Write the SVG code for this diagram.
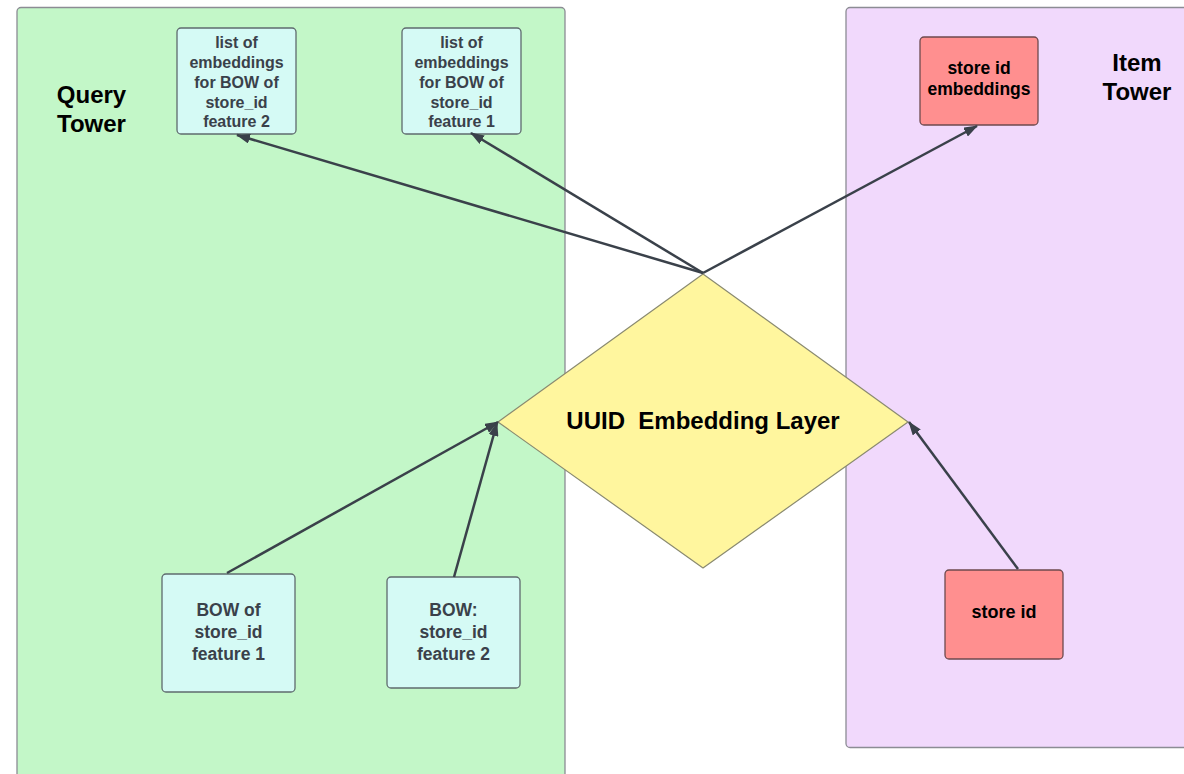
<svg xmlns="http://www.w3.org/2000/svg" width="1184" height="774" viewBox="0 0 1184 774">
<style>
.t{font-family:"Liberation Sans",Arial,sans-serif;font-weight:bold;text-anchor:middle}
.cont{stroke:#8c8c94;stroke-width:1.3}
.cy{fill:#d5faf5;stroke:#5f6b6e;stroke-width:1.3}
.rd{fill:#ff8f8f;stroke:#6e4a4e;stroke-width:1.3}
.sm{font-size:16px;fill:#3a414a}
.md{font-size:17.5px;fill:#3a414a}
.bk{fill:#000}
.cn{stroke:#3a414a;stroke-width:2.5;fill:none;marker-end:url(#ah)}
</style>
<defs>
<marker id="ah" viewBox="0 0 14 10" refX="13" refY="5" markerWidth="14" markerHeight="10" markerUnits="userSpaceOnUse" orient="auto">
<path d="M0,0 L14,5 L0,10 Z" fill="#3a414a"/>
</marker>
</defs>
<rect width="1184" height="774" fill="#ffffff"/>
<g id="query-tower">
<rect class="cont" x="17" y="7.5" width="548" height="780" rx="4" fill="#c3f7c8"/>
<text class="t bk" font-size="24" x="91.5" y="103">Query</text>
<text class="t bk" font-size="24" x="91.5" y="132">Tower</text>
</g>
<g id="item-tower">
<rect class="cont" x="846" y="7.5" width="350" height="740" rx="4" fill="#f1d9fc"/>
<text class="t bk" font-size="24" x="1137" y="71">Item</text>
<text class="t bk" font-size="24" x="1137" y="100">Tower</text>
</g>
<g id="list-emb-f2">
<rect class="cy" x="177" y="28" width="119" height="106" rx="4"/>
<text class="t sm" x="236.5"><tspan x="236.5" y="48">list of</tspan><tspan x="236.5" y="68">embeddings</tspan><tspan x="236.5" y="88">for BOW of</tspan><tspan x="236.5" y="107.5">store_id</tspan><tspan x="236.5" y="127">feature 2</tspan></text>
</g>
<g id="list-emb-f1">
<rect class="cy" x="402" y="28" width="119" height="106" rx="4"/>
<text class="t sm" x="461.5"><tspan x="461.5" y="48">list of</tspan><tspan x="461.5" y="68">embeddings</tspan><tspan x="461.5" y="88">for BOW of</tspan><tspan x="461.5" y="107.5">store_id</tspan><tspan x="461.5" y="127">feature 1</tspan></text>
</g>
<g id="store-id-emb">
<rect class="rd" x="920" y="37" width="118" height="88" rx="4"/>
<text class="t bk" font-size="17.5"><tspan x="979" y="74">store id</tspan><tspan x="979" y="95">embeddings</tspan></text>
</g>
<g id="uuid-layer">
<path d="M703,274 L908,422 L703,568 L498,422 Z" fill="#fff69e" stroke="#8a8a70" stroke-width="1.2" stroke-linejoin="round"/>
<text class="t bk" font-size="24" x="703" y="428.5" xml:space="preserve">UUID  Embedding Layer</text>
</g>
<g id="bow-f1">
<rect class="cy" x="162" y="574" width="133" height="118" rx="4"/>
<text class="t md"><tspan x="228.5" y="616">BOW of</tspan><tspan x="228.5" y="637.5">store_id</tspan><tspan x="228.5" y="659.5">feature 1</tspan></text>
</g>
<g id="bow-f2">
<rect class="cy" x="387" y="577" width="133" height="111" rx="4"/>
<text class="t md"><tspan x="453.5" y="616">BOW:</tspan><tspan x="453.5" y="637.5">store_id</tspan><tspan x="453.5" y="659.5">feature 2</tspan></text>
</g>
<g id="store-id">
<rect class="rd" x="945" y="570" width="118" height="89" rx="4"/>
<text class="t bk" font-size="18" x="1004" y="618">store id</text>
</g>
<g id="connectors">
<line class="cn" x1="703" y1="273" x2="237" y2="135"/>
<line class="cn" x1="703" y1="273" x2="471" y2="133"/>
<line class="cn" x1="703" y1="273" x2="977" y2="126"/>
<line class="cn" x1="227" y1="573" x2="498" y2="422"/>
<line class="cn" x1="454" y1="577" x2="497" y2="423"/>
<line class="cn" x1="1018" y1="569" x2="909" y2="422"/>
</g>
</svg>
